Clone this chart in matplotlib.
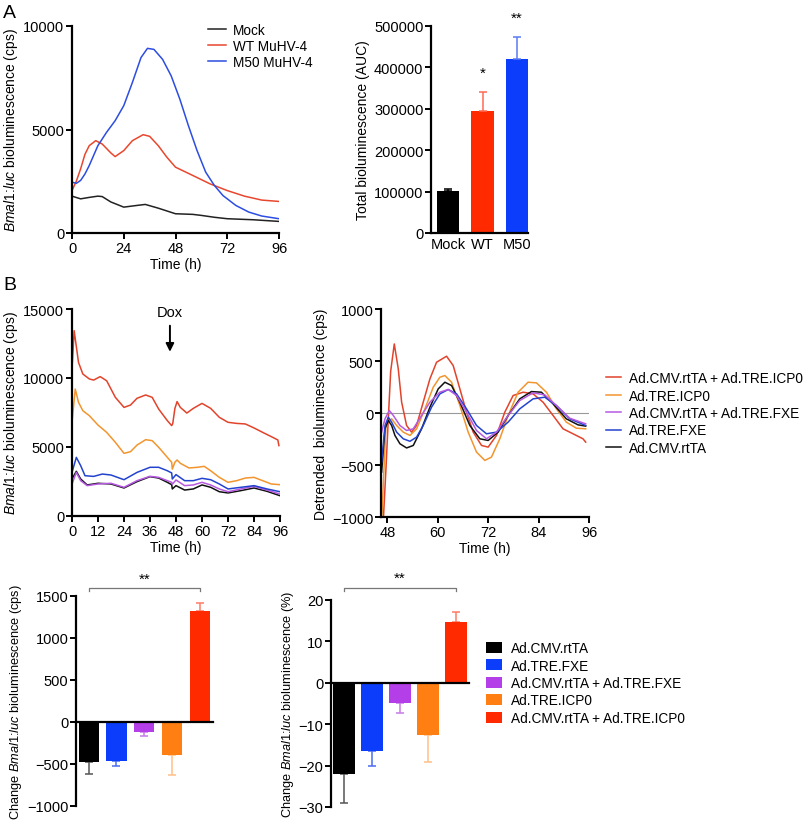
import matplotlib
matplotlib.use('Agg')
import matplotlib.pyplot as plt
import numpy as np

plt.rcParams['font.family'] = ['Liberation Sans', 'DejaVu Sans']
plt.rcParams['mathtext.fontset'] = 'custom'
plt.rcParams['mathtext.rm'] = 'Liberation Sans'
plt.rcParams['mathtext.it'] = 'Liberation Sans:italic'
plt.rcParams['font.size'] = 10

# ---------------- Panel A data ----------------
a_mock_t = [0, 4, 8, 12, 14, 18, 24, 30, 34, 40, 48, 56, 60, 66, 72, 84, 96]
a_mock = [1780, 1650, 1720, 1780, 1760, 1500, 1250, 1330, 1380, 1200, 930, 900, 850, 760, 690, 640, 560]
a_wt_t = [0, 2, 4, 6, 8, 11, 14, 18, 20, 24, 28, 33, 36, 40, 44, 48, 56, 64, 72, 80, 88, 96]
a_wt = [2050, 2500, 3100, 3800, 4220, 4460, 4300, 3870, 3690, 3980, 4460, 4750, 4670, 4220, 3660,
        3180, 2780, 2375, 2050, 1780, 1590, 1525]
a_m50_t = [0, 2, 4, 6, 8, 12, 16, 20, 24, 28, 32, 35, 38, 42, 46, 50, 54, 58, 62, 66, 70, 76, 82, 88, 96]
a_m50 = [2455, 2400, 2540, 2850, 3260, 4220, 4860, 5425, 6150, 7270, 8475, 8920, 8870, 8390, 7590,
         6470, 5180, 3980, 2940, 2300, 1810, 1330, 1010, 820, 690]
a_line_labels = ['Mock', 'WT MuHV-4', 'M50 MuHV-4']

auc_cats = ['Mock', 'WT', 'M50']
auc_vals = [102000, 294000, 420000]
auc_err = [4000, 46000, 53000]
auc_stars = ['', '*', '**']

# ---------------- Panel B raw data ----------------
b_red_t = [0, 1, 3, 5, 8, 10, 13, 16, 20, 24, 27, 30, 34, 37, 40, 44, 46, 46.5, 47.5, 48.5, 50, 53, 56,
           60, 64, 68, 72, 76, 80, 84, 88, 92, 95, 95.5]
b_red = [10650, 13430, 11130, 10290, 9930, 9850, 10100, 9800, 8600, 7870, 8040, 8530, 8770, 8600, 7750,
         6910, 6550, 6700, 7800, 8290, 7870, 7460, 7800, 8160, 7800, 7150, 6790, 6710, 6670, 6380, 6060,
         5750, 5510, 5100]
b_ora_t = [0, 1.5, 3, 5, 8, 12, 16, 20, 24, 27, 30, 34, 37, 40, 44, 46, 46.3, 47.5, 48.5, 50, 54, 58, 61,
           64, 68, 72, 76, 80, 84, 88, 92, 96]
b_ora = [6790, 9200, 8240, 7630, 7270, 6590, 6060, 5340, 4540, 4660, 5140, 5530, 5460, 4980, 4250, 3890,
         3400, 3900, 4060, 3820, 3480, 3530, 3600, 3280, 2800, 2440, 2560, 2750, 2800, 2560, 2320, 2270]
b_blu_t = [0, 2, 4, 6, 10, 14, 18, 24, 30, 36, 40, 44, 46, 46.3, 48, 52, 56, 60, 64, 68, 72, 78, 84, 90, 96]
b_blu = [3160, 4250, 3650, 2920, 2870, 3040, 2970, 2630, 3160, 3530, 3530, 3280, 3120, 2680, 3000, 2560,
         2560, 2730, 2630, 2320, 1960, 2080, 2200, 1960, 1760]
b_blk_t = [0, 2, 4, 7, 12, 18, 24, 30, 36, 40, 44, 46, 46.3, 48, 52, 56, 60, 64, 68, 72, 78, 84, 90, 96]
b_blk = [2680, 3240, 2680, 2250, 2370, 2320, 2030, 2490, 2850, 2750, 2440, 2270, 1960, 2200, 1880, 1960,
         2250, 2080, 1760, 1670, 1840, 2030, 1790, 1470]
b_pur_t = b_blk_t
b_pur = [2320, 3160, 2560, 2200, 2320, 2370, 2080, 2560, 2875, 2800, 2560, 2440, 2300, 2610, 2200, 2250,
         2440, 2250, 1960, 1760, 1960, 2150, 1880, 1590]

# ---------------- Panel B detrended data ----------------
d_red_t = [46.9, 47.68, 48.24, 48.8, 49.66, 50.61, 51.41, 52.59, 53.78, 54.97, 56.55, 58.14, 59.72, 62.1,
           63.68, 65.27, 66.85, 68.44, 70.42, 72.0, 73.98, 75.96, 77.94, 80.32, 82.69, 85.07, 87.45,
           89.82, 92.2, 94.57, 95.21]
d_red = [-1150, -536, -56, 400, 664, 424, 104, -120, -184, -120, 104, 328, 488, 546, 456, 232, 8, -184,
         -312, -328, -216, 8, 168, 200, 184, 104, -24, -152, -200, -248, -280]
d_ora_t = [46.65, 47.21, 47.68, 48.24, 49.03, 50.22, 51.8, 53.39, 54.97, 56.95, 58.93, 60.51, 61.7, 63.29,
           65.27, 67.25, 69.23, 71.21, 72.79, 74.77, 76.75, 79.13, 81.5, 83.48, 85.86, 88.24, 90.61,
           92.99, 95.21]
d_ora = [-1050, -536, -120, -88, -56, -120, -184, -216, -152, 40, 248, 344, 360, 296, 72, -184, -376,
         -456, -424, -248, -24, 200, 296, 290, 200, 40, -88, -146, -152]
d_blk_t = [46.65, 47.45, 48.24, 49.03, 49.82, 51.01, 52.59, 54.18, 56.16, 58.14, 60.12, 61.7, 63.29,
           65.27, 67.64, 70.02, 72.0, 74.38, 76.75, 79.52, 82.29, 84.67, 87.45, 90.61, 93.39, 95.21]
d_blk = [-568, -152, -72, -120, -216, -296, -336, -312, -152, 56, 232, 296, 264, 104, -120, -248, -264,
         -184, -24, 136, 206, 200, 88, -56, -114, -126]
d_blu_t = [46.65, 47.45, 48.24, 49.03, 50.22, 51.8, 53.39, 54.97, 56.55, 58.53, 60.51, 62.5, 64.48,
           66.85, 69.23, 71.6, 73.98, 76.75, 79.52, 82.69, 85.47, 88.24, 91.41, 95.21]
d_blu = [-472, -120, -40, -88, -184, -248, -272, -232, -120, 56, 184, 226, 184, 40, -120, -200, -184,
         -88, 40, 136, 152, 72, -56, -120]
d_pur_t = [46.65, 47.45, 48.48, 49.43, 51.01, 52.59, 54.18, 56.16, 58.14, 60.51, 62.5, 64.48, 66.85,
           69.23, 71.6, 73.98, 76.75, 79.52, 82.69, 85.47, 88.24, 91.41, 95.21]
d_pur = [-184, -56, 24, -24, -120, -168, -152, -24, 104, 200, 226, 168, 8, -168, -248, -184, -24, 120,
         194, 174, 72, -50, -104]

b_labels = ['Ad.CMV.rtTA + Ad.TRE.ICP0', 'Ad.TRE.ICP0', 'Ad.CMV.rtTA + Ad.TRE.FXE', 'Ad.TRE.FXE',
            'Ad.CMV.rtTA']

# ---------------- Bottom bar data ----------------
bar_labels = ['Ad.CMV.rtTA', 'Ad.TRE.FXE', 'Ad.CMV.rtTA + Ad.TRE.FXE', 'Ad.TRE.ICP0',
              'Ad.CMV.rtTA + Ad.TRE.ICP0']
chg_cps = [-480, -470, -115, -395, 1316]
chg_cps_err = [140, 55, 50, 240, 100]
chg_pct = [-22.0, -16.4, -4.9, -12.5, 14.7]
chg_pct_err = [7.1, 3.8, 2.4, 6.7, 2.5]

# ---------------- styles ----------------
line_cols_B = {'red': '#e2432b', 'ora': '#f2952e', 'pur': '#b65ae0', 'blu': '#2343cf', 'blk': '#111111'}
bar_cols = ['#000000', '#0b3dfb', '#b43ee8', '#ff7f12', '#ff2a00']
err_cols = ['#555555', '#4a6cf0', '#c77ae8', '#ffc08a', '#ff7a66']
TICK_FS = 10.5
LAB_FS = 10

W, H = 805, 828
fig = plt.figure(figsize=(W / 100, H / 100), dpi=100)


def axpx(l, t, r, b):
    return fig.add_axes([l / W, 1 - b / H, (r - l) / W, (b - t) / H])


def style(ax):
    for s in ['top', 'right']:
        ax.spines[s].set_visible(False)
    for s in ['left', 'bottom']:
        ax.spines[s].set_linewidth(1.6)
    ax.tick_params(width=1.4, length=4, labelsize=TICK_FS, pad=1.5)


ylab_bmal = r'$\it{Bmal1}$:$\it{luc}$ bioluminescence (cps)'

# ---- A line ----
ax = axpx(72, 27, 279, 234)
style(ax)
l1, = ax.plot(a_mock_t, a_mock, color='#222222', lw=1.1)
l2, = ax.plot(a_wt_t, a_wt, color='#e8472e', lw=1.1)
l3, = ax.plot(a_m50_t, a_m50, color='#2c4de0', lw=1.1)
ax.set_xlim(0, 96)
ax.set_ylim(0, 10000)
ax.set_xticks([0, 24, 48, 72, 96])
ax.set_yticks([0, 5000, 10000])
ax.set_xlabel('Time (h)', fontsize=LAB_FS, labelpad=2)
ax.set_ylabel(ylab_bmal, fontsize=LAB_FS, labelpad=2)
fig.legend([l1, l2, l3], a_line_labels, loc='upper left', bbox_to_anchor=(208 / W, 1 - 24 / H),
           frameon=False, borderpad=0, borderaxespad=0, handlelength=1.3, handletextpad=0.5,
           labelspacing=0.15, fontsize=9.8)
fig.text(3 / W, 1 - 14 / H, 'A', fontsize=14, va='center', ha='left')

# ---- A bars ----
ax = axpx(431, 27, 528, 234)
style(ax)
xa = np.arange(len(auc_cats))
ax.bar(xa, auc_vals, width=0.65, color=['#000000', '#ff2a00', '#0b3dfb'])
for i in range(len(xa)):
    ax.errorbar(xa[i], auc_vals[i], yerr=[[0], [auc_err[i]]], fmt='none',
                ecolor=['#000000', '#ff6a55', '#5a7af5'][i], elinewidth=1.1, capsize=3, capthick=1.1)
    if auc_stars[i]:
        ax.text(xa[i], auc_vals[i] + auc_err[i] + 30000, auc_stars[i], ha='center', va='bottom',
                fontsize=11, clip_on=False)
ax.set_xlim(-0.5, 2.32)
ax.set_ylim(0, 500000)
ax.set_yticks([0, 100000, 200000, 300000, 400000, 500000])
ax.set_xticks(xa)
ax.set_xticklabels(auc_cats)
ax.tick_params(axis='x', length=0, pad=3)
ax.set_ylabel('Total bioluminescence (AUC)', fontsize=LAB_FS, labelpad=3)

# ---- B raw ----
ax = axpx(72, 310, 280, 517)
style(ax)
ax.plot(b_blk_t, b_blk, color=line_cols_B['blk'], lw=1.1)
ax.plot(b_pur_t, b_pur, color=line_cols_B['pur'], lw=1.1)
ax.plot(b_blu_t, b_blu, color=line_cols_B['blu'], lw=1.1)
ax.plot(b_ora_t, b_ora, color=line_cols_B['ora'], lw=1.1)
ax.plot(b_red_t, b_red, color=line_cols_B['red'], lw=1.1)
ax.set_xlim(0, 96)
ax.set_ylim(0, 15000)
ax.set_xticks(np.arange(0, 97, 12))
ax.set_yticks([0, 5000, 10000, 15000])
ax.set_xlabel('Time (h)', fontsize=LAB_FS, labelpad=2)
ax.set_ylabel(ylab_bmal, fontsize=LAB_FS, labelpad=2)
ax.annotate('Dox', xy=(45.2, 11900), xytext=(45.2, 14800), ha='center', va='center', fontsize=10.5,
            arrowprops=dict(arrowstyle='-|>', color='k', lw=1.4, mutation_scale=12, shrinkA=3, shrinkB=0),
            annotation_clip=False)
fig.text(3 / W, 1 - 286 / H, 'B', fontsize=14, va='center', ha='left')

# ---- B detrended ----
ax = axpx(381, 310, 589, 518)
style(ax)
ax.axhline(0, color='#999999', lw=0.8)
hr, = ax.plot(d_red_t, d_red, color=line_cols_B['red'], lw=1.1)
ho, = ax.plot(d_ora_t, d_ora, color=line_cols_B['ora'], lw=1.1)
hk, = ax.plot(d_blk_t, d_blk, color=line_cols_B['blk'], lw=1.1)
hb, = ax.plot(d_blu_t, d_blu, color=line_cols_B['blu'], lw=1.1)
hp, = ax.plot(d_pur_t, d_pur, color=line_cols_B['pur'], lw=1.1)
ax.set_xlim(46.5, 96)
ax.set_ylim(-1000, 1000)
ax.set_xticks([48, 60, 72, 84, 96])
ax.set_yticks([-1000, -500, 0, 500, 1000])
ax.set_xlabel('Time (h)', fontsize=LAB_FS, labelpad=2)
ax.set_ylabel('Detrended  bioluminescence (cps)', fontsize=LAB_FS, labelpad=3)
fig.legend([hr, ho, hp, hb, hk], b_labels, loc='center left', bbox_to_anchor=(606 / W, 1 - 414 / H),
           frameon=False, borderpad=0, borderaxespad=0, handlelength=1.1, handletextpad=0.6,
           labelspacing=0.25, fontsize=9.8)

# ---- bottom bars ----
def change_bars(ax, vals, errs, ylim, yticks, bracket_y, star_y, ylabel, width, xr):
    style(ax)
    x = np.arange(len(vals))
    bars = ax.bar(x, vals, width=width, color=bar_cols, zorder=2)
    for i in range(len(x)):
        e = [[errs[i]], [0]] if vals[i] < 0 else [[0], [errs[i]]]
        ax.errorbar(x[i], vals[i], yerr=e, fmt='none', ecolor=err_cols[i], elinewidth=1.1,
                    capsize=3, capthick=1.1, zorder=1)
    ax.spines['bottom'].set_position(('data', 0))
    ax.spines['bottom'].set_zorder(3)
    ax.tick_params(axis='x', length=0, labelbottom=False)
    ax.set_xlim(-0.45, xr)
    ax.set_ylim(*ylim)
    ax.set_yticks(yticks)
    ax.set_ylabel(ylabel, fontsize=9.2, labelpad=2)
    d = (ylim[1] - ylim[0]) * 0.015
    ax.plot([0, 0, 4, 4], [bracket_y - d, bracket_y, bracket_y, bracket_y - d], color='#777777',
            lw=0.9, clip_on=False)
    ax.text(2, star_y, '**', ha='center', va='center', fontsize=11, clip_on=False)
    return bars


ax = axpx(76, 597, 213, 807)
bars = change_bars(ax, chg_cps, chg_cps_err, (-1000, 1500), [-1000, -500, 0, 500, 1000, 1500],
                   1595, 1700, r'Change $\it{Bmal1}$:$\it{luc}$ bioluminescence (cps)', 0.72, 4.46)

ax = axpx(331, 601, 469, 808)
bars = change_bars(ax, chg_pct, chg_pct_err, (-30, 20), [-30, -20, -10, 0, 10, 20],
                   22.9, 25.3, r'Change $\it{Bmal1}$:$\it{luc}$ bioluminescence (%)', 0.78, 4.47)

fig.legend(bars, bar_labels, loc='center left', bbox_to_anchor=(486 / W, 1 - 684 / H),
           frameon=False, borderpad=0, borderaxespad=0, handlelength=1.15, handleheight=0.85,
           handletextpad=0.7, labelspacing=0.25, fontsize=9.8)

fig.savefig('out.png', dpi=100)
